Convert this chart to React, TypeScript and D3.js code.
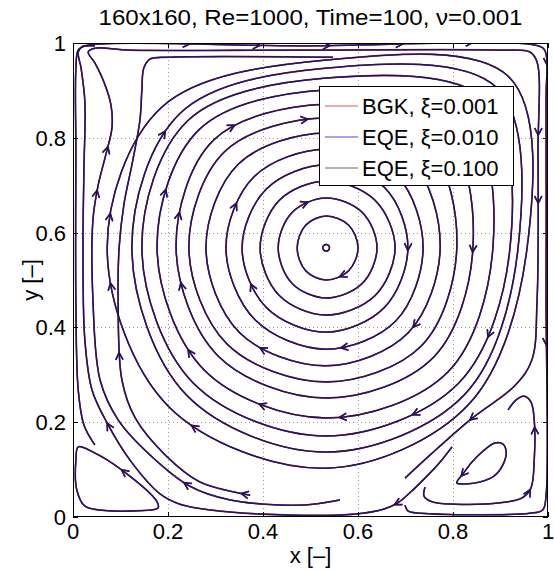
import React, { useEffect, useRef } from "react";
import * as d3 from "d3";

type Pt = [number, number];

// ---------- data ----------
const titleText = "160x160, Re=1000, Time=100, \u03bd=0.001";
const xLabel = "x [\u2013]";
const yLabel = "y [\u2013]";
const xTicks = [0, 0.2, 0.4, 0.6, 0.8, 1];
const yTicks = [0, 0.2, 0.4, 0.6, 0.8, 1];
const xTickLabels = ["0", "0.2", "0.4", "0.6", "0.8", "1"];
const yTickLabels = ["0", "0.2", "0.4", "0.6", "0.8", "1"];
const gridValues = [0.2, 0.4, 0.6, 0.8];

const seriesNames = ["BGK, \u03be=0.001", "EQE, \u03be=0.010", "EQE, \u03be=0.100"];
const seriesColors = ["#e05858", "#4a4ad0", "#6a6a6a"];
const seriesStrokes = ["#c83030", "#2a1c9c", "#141428"];

// primary vortex centre
const vortexCenter: Pt = [0.533, 0.568];

// closed primary streamlines: extents (left / right at centre height, top / bottom at centre x)
const ringLeft = [0.526, 0.472, 0.432, 0.394, 0.356, 0.322, 0.28, 0.244, 0.217, 0.177, 0.145, 0.124, 0.072];
const ringRight = [0.54, 0.6, 0.64, 0.678, 0.705, 0.737, 0.773, 0.808, 0.842, 0.884, 0.92, 0.937, 0.956];
const ringTop = [0.575, 0.635, 0.673, 0.709, 0.743, 0.776, 0.81, 0.842, 0.871, 0.901, 0.926, 0.947, 0.964];
const ringBottom = [0.561, 0.5, 0.462, 0.426, 0.39, 0.354, 0.319, 0.285, 0.251, 0.209, 0.171, 0.137, 0.103];
// how far the diagonal corners reach (fraction of the extents)
const cornerNE = [0.71, 0.71, 0.71, 0.71, 0.72, 0.73, 0.75, 0.78, 0.81, 0.84, 0.87, 0.89, 0.91];
const cornerSE = [0.71, 0.71, 0.71, 0.71, 0.71, 0.72, 0.72, 0.73, 0.73, 0.73, 0.72, 0.72, 0.71];
const cornerSW = [0.71, 0.71, 0.71, 0.71, 0.71, 0.71, 0.72, 0.72, 0.72, 0.72, 0.72, 0.72, 0.72];
const cornerNW = [0.71, 0.71, 0.71, 0.71, 0.71, 0.72, 0.73, 0.74, 0.75, 0.75, 0.75, 0.75, 0.75];

// open streamlines (in flow direction)
const wallLine: Pt[] = [
  [0.046, 0.152], [0.023, 0.194], [0.011, 0.268], [0.006, 0.458], [0.006, 0.774], [0.006, 0.943],
  [0.011, 0.985], [0.025, 0.994], [0.478, 0.994], [0.979, 0.994], [0.994, 0.983], [0.996, 0.88],
  [0.996, 0.458], [0.996, 0.046], [0.989, 0.015], [0.962, 0.008], [0.731, 0.008], [0.705, 0.013], [0.699, 0.025],
];
const bottomLeftLine: Pt[] = [
  [0.798, 0.148], [0.773, 0.116], [0.741, 0.082], [0.709, 0.051], [0.684, 0.03], [0.655, 0.017],
  [0.592, 0.006], [0.4, 0.006], [0.288, 0.015], [0.225, 0.027], [0.183, 0.049], [0.12, 0.12],
  [0.072, 0.198], [0.04, 0.268], [0.025, 0.373], [0.021, 0.563], [0.023, 0.732], [0.025, 0.876],
  [0.017, 0.947], [0.011, 0.981], [0.019, 0.992], [0.046, 0.994],
];
const wigglyLine: Pt[] = [
  [0.562, 0.036], [0.478, 0.025], [0.331, 0.036], [0.246, 0.065], [0.162, 0.131], [0.095, 0.205],
  [0.057, 0.289], [0.042, 0.458], [0.042, 0.627], [0.053, 0.7], [0.069, 0.764], [0.082, 0.821],
  [0.08, 0.869], [0.065, 0.918], [0.046, 0.958], [0.032, 0.981], [0.046, 0.989], [0.12, 0.985],
  [0.478, 0.985], [0.899, 0.985], [0.962, 0.981], [0.977, 0.96], [0.979, 0.774], [0.977, 0.458],
  [0.966, 0.331], [0.931, 0.278], [0.836, 0.205], [0.752, 0.131], [0.699, 0.082],
];
const upperLeftLine: Pt[] = [
  [0.373, 0.046], [0.267, 0.074], [0.194, 0.131], [0.131, 0.209], [0.103, 0.289], [0.095, 0.458],
  [0.097, 0.567], [0.107, 0.658], [0.126, 0.753], [0.141, 0.838], [0.145, 0.901], [0.149, 0.947],
  [0.162, 0.966], [0.204, 0.97], [0.547, 0.97],
];
// bottom-right secondary vortex
const cornerSpiral: Pt[] = [
  [0.741, 0.063], [0.739, 0.044], [0.756, 0.032], [0.804, 0.027], [0.899, 0.03], [0.945, 0.04],
  [0.964, 0.061], [0.971, 0.12], [0.971, 0.205], [0.964, 0.243], [0.949, 0.255], [0.933, 0.247], [0.916, 0.226],
];
const cornerLoop: Pt[] = [
  [0.808, 0.072], [0.832, 0.07], [0.857, 0.074], [0.886, 0.086], [0.905, 0.11], [0.912, 0.137],
  [0.905, 0.154], [0.888, 0.156], [0.861, 0.137], [0.84, 0.116], [0.821, 0.091],
];
// bottom-left secondary vortex
const leftCornerLoop: Pt[] = [
  [0.179, 0.019], [0.177, 0.032], [0.103, 0.099], [0.042, 0.137], [0.011, 0.148], [0.006, 0.12],
  [0.008, 0.057], [0.025, 0.023], [0.078, 0.013], [0.131, 0.013],
];

// arrow positions along the streamlines
const arrowX = [
  0.495, 0.699, 0.84, 0.562, 0.379, 0.714, 0.861, 0.562, 0.387, 0.709, 0.562, 0.387, 0.836, 0.051, 0.198,
  0.345, 0.078, 0.229, 0.078, 0.225, 0.099, 0.232, 0.246, 0.394, 0.541, 0.695, 0.842, 0.198, 0.345, 0.493,
  0.994, 0.987, 0.979, 0.989, 0.663, 0.975, 0.952, 0.819, 0.072, 0.253, 0.103, 0.236, 0.358, 0.063,
];
const arrowY = [
  0.662, 0.563, 0.559, 0.504, 0.494, 0.403, 0.384, 0.363, 0.346, 0.226, 0.205, 0.226, 0.205, 0.69, 0.69,
  0.662, 0.641, 0.641, 0.494, 0.494, 0.346, 0.346, 0.994, 0.994, 0.994, 0.994, 0.994, 0.812, 0.816, 0.844,
  0.954, 0.806, 0.662, 0.363, 0.053, 0.19, 0.063, 0.084, 0.198, 0.198, 0.099, 0.074, 0.068, 0.785,
];

// ---------- layout ----------
const W = 554;
const H = 571;
const PX0 = 73;
const PX1 = 548;
const PY0 = 517;
const PY1 = 43;
const FONT = "'Liberation Sans', Arial, Helvetica, sans-serif";

function ringPoints(i: number): Pt[] {
  const [cx, cy] = vortexCenter;
  const L = ringLeft[i], R = ringRight[i], T = ringTop[i], B = ringBottom[i];
  return [
    [cx, T],
    [cx + cornerNE[i] * (R - cx), cy + cornerNE[i] * (T - cy)],
    [R, cy],
    [cx + cornerSE[i] * (R - cx), cy + cornerSE[i] * (B - cy)],
    [cx, B],
    [cx + cornerSW[i] * (L - cx), cy + cornerSW[i] * (B - cy)],
    [L, cy],
    [cx + cornerNW[i] * (L - cx), cy + cornerNW[i] * (T - cy)],
  ];
}

export default function App() {
  const ref = useRef<SVGSVGElement>(null);

  useEffect(() => {
    const svg = d3.select(ref.current as SVGSVGElement);
    svg.selectAll("*").remove();
    const x = d3.scaleLinear().domain([0, 1]).range([PX0, PX1]);
    const y = d3.scaleLinear().domain([0, 1]).range([PY0, PY1]);

    svg.append("rect").attr("width", W).attr("height", H).attr("fill", "#fff");

    // grid
    const grid = svg
      .append("g")
      .attr("stroke", "#9a9a9a")
      .attr("stroke-width", 1)
      .attr("stroke-dasharray", "1,3");
    gridValues.forEach((v) => {
      grid.append("line").attr("x1", Math.round(x(v)) + 0.5).attr("x2", Math.round(x(v)) + 0.5).attr("y1", y(0)).attr("y2", y(1));
      grid.append("line").attr("y1", Math.round(y(v)) + 0.5).attr("y2", Math.round(y(v)) + 0.5).attr("x1", x(0)).attr("x2", x(1));
    });

    svg
      .append("defs")
      .append("clipPath")
      .attr("id", "plotclip")
      .append("rect")
      .attr("x", PX0)
      .attr("y", PY1)
      .attr("width", PX1 - PX0)
      .attr("height", PY0 - PY1);

    const lines: { pts: Pt[]; closed: boolean }[] = [];
    ringLeft.forEach((_, i) => lines.push({ pts: ringPoints(i), closed: true }));
    lines.push({ pts: wallLine, closed: false });
    lines.push({ pts: bottomLeftLine, closed: false });
    lines.push({ pts: wigglyLine, closed: false });
    lines.push({ pts: upperLeftLine, closed: false });
    lines.push({ pts: cornerSpiral, closed: false });
    lines.push({ pts: cornerLoop, closed: true });
    lines.push({ pts: leftCornerLoop, closed: true });

    const lineOpen = d3
      .line<Pt>()
      .x((d) => x(d[0]))
      .y((d) => y(d[1]))
      .curve(d3.curveCatmullRom.alpha(0.5));
    const lineClosed = d3
      .line<Pt>()
      .x((d) => x(d[0]))
      .y((d) => y(d[1]))
      .curve(d3.curveCatmullRomClosed.alpha(0.5));

    // measure paths to place arrows
    const measure = svg.append("g").attr("fill", "none").attr("stroke", "none");
    const samples: { x: number; y: number; tx: number; ty: number }[] = [];
    lines.forEach((l) => {
      const p = measure.append("path").attr("d", (l.closed ? lineClosed : lineOpen)(l.pts) as string).node() as SVGPathElement;
      const tot = p.getTotalLength();
      for (let s = 0; s <= tot; s += 1) {
        const a = p.getPointAtLength(Math.max(0, s - 1.5));
        const b = p.getPointAtLength(Math.min(tot, s + 1.5));
        const c = p.getPointAtLength(s);
        samples.push({ x: c.x, y: c.y, tx: b.x - a.x, ty: b.y - a.y });
      }
    });
    measure.remove();

    const arrows = arrowX.map((ax, i) => {
      const px = x(ax);
      const py = y(arrowY[i]);
      let best = samples[0];
      let bd = Infinity;
      for (const s of samples) {
        const d = (s.x - px) ** 2 + (s.y - py) ** 2;
        if (d < bd) {
          bd = d;
          best = s;
        }
      }
      const len = Math.hypot(best.tx, best.ty) || 1;
      return { x: best.x, y: best.y, ux: best.tx / len, uy: best.ty / len };
    });
    const arm = 8;
    const ang = (27 * Math.PI) / 180;
    const arrowPath = (a: { x: number; y: number; ux: number; uy: number }) => {
      const bx = -a.ux, by = -a.uy;
      const c = Math.cos(ang), s = Math.sin(ang);
      const l1x = bx * c - by * s, l1y = bx * s + by * c;
      const l2x = bx * c + by * s, l2y = -bx * s + by * c;
      return `M${a.x + l1x * arm},${a.y + l1y * arm}L${a.x},${a.y}L${a.x + l2x * arm},${a.y + l2y * arm}`;
    };

    const widths = [1.6, 1.45, 1.2];
    const opac = [1, 1, 0.55];
    seriesStrokes.forEach((col, si) => {
      const g = svg
        .append("g")
        .attr("clip-path", "url(#plotclip)")
        .attr("fill", "none")
        .attr("stroke", col)
        .attr("stroke-width", widths[si])
        .attr("stroke-opacity", opac[si])
        .attr("stroke-linejoin", "round");
      lines.forEach((l) => g.append("path").attr("d", (l.closed ? lineClosed : lineOpen)(l.pts) as string));
      arrows.forEach((a) => g.append("path").attr("d", arrowPath(a)));
    });

    // axes box
    svg
      .append("rect")
      .attr("x", PX0 + 0.5)
      .attr("y", PY1 + 0.5)
      .attr("width", PX1 - PX0 - 1)
      .attr("height", PY0 - PY1 - 1)
      .attr("fill", "none")
      .attr("stroke", "#000")
      .attr("stroke-width", 1);
    const ticks = svg.append("g").attr("stroke", "#000").attr("stroke-width", 1);
    const tl = 5;
    xTicks.forEach((v) => {
      const px = Math.round(x(v)) + 0.5;
      ticks.append("line").attr("x1", px).attr("x2", px).attr("y1", PY0).attr("y2", PY0 - tl);
      ticks.append("line").attr("x1", px).attr("x2", px).attr("y1", PY1).attr("y2", PY1 + tl);
    });
    yTicks.forEach((v) => {
      const py = Math.round(y(v)) + 0.5;
      ticks.append("line").attr("y1", py).attr("y2", py).attr("x1", PX0).attr("x2", PX0 + tl);
      ticks.append("line").attr("y1", py).attr("y2", py).attr("x1", PX1).attr("x2", PX1 - tl);
    });

    const txt = svg.append("g").attr("font-family", FONT).attr("fill", "#000").attr("font-size", 22);
    xTicks.forEach((v, i) => {
      txt.append("text").attr("x", x(v)).attr("y", 539).attr("text-anchor", "middle").text(xTickLabels[i]);
    });
    yTicks.forEach((v, i) => {
      txt.append("text").attr("x", 66).attr("y", y(v) + 8).attr("text-anchor", "end").text(yTickLabels[i]);
    });
    txt.append("text").attr("x", (PX0 + PX1) / 2).attr("y", 563).attr("text-anchor", "middle").text(xLabel);
    txt
      .append("text")
      .attr("transform", `translate(38,${(PY0 + PY1) / 2}) rotate(-90)`)
      .attr("text-anchor", "middle")
      .text(yLabel);
    txt
      .append("text")
      .attr("x", (PX0 + PX1) / 2)
      .attr("y", 25)
      .attr("text-anchor", "middle")
      .attr("textLength", 424)
      .attr("lengthAdjust", "spacingAndGlyphs")
      .attr("font-size", 22.5)
      .text(titleText);

    // legend
    const lg = svg.append("g");
    lg.append("rect").attr("x", 319.5).attr("y", 86.5).attr("width", 194).attr("height", 99).attr("fill", "#fff").attr("stroke", "#000").attr("stroke-width", 1);
    seriesNames.forEach((name, i) => {
      const cy = 106 + i * 31;
      lg.append("line").attr("x1", 325).attr("x2", 358).attr("y1", cy).attr("y2", cy).attr("stroke", seriesColors[i]).attr("stroke-width", 1.2);
      lg.append("text").attr("x", 362).attr("y", cy + 8).attr("font-family", FONT).attr("font-size", 22).attr("fill", "#000").text(name);
    });
  }, []);

  return (
    <svg
      ref={ref}
      width={W}
      height={H}
      style={{ position: "absolute", left: 0, top: 0, display: "block" }}
    />
  );
}
